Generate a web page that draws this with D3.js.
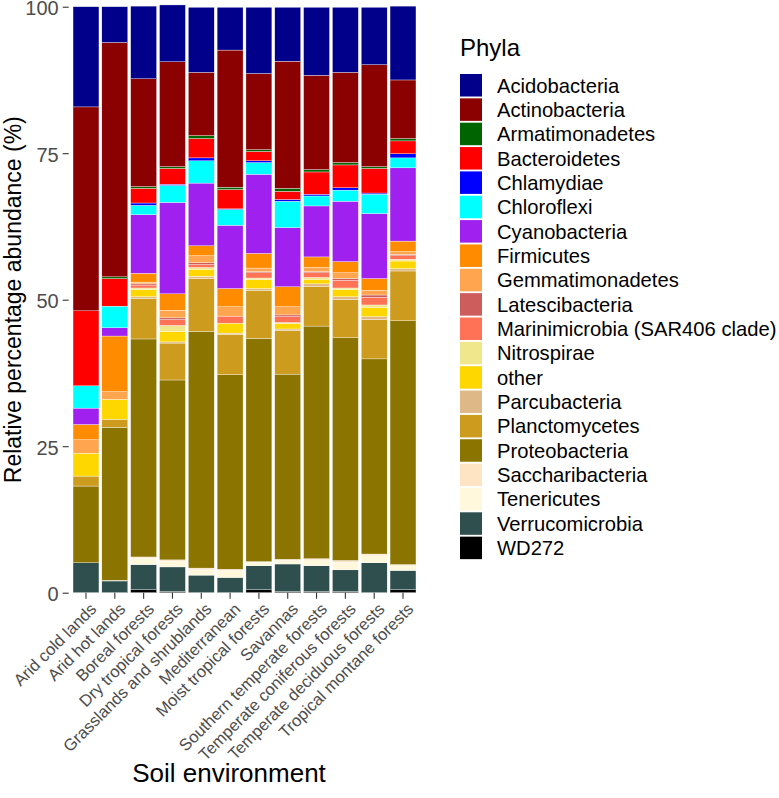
<!DOCTYPE html>
<html>
<head>
<meta charset="utf-8">
<script src="https://cdn.jsdelivr.net/npm/d3@7"></script>
<style>
  html, body { margin: 0; padding: 0; background: #fff; }
  svg { display: block; font-family: "Liberation Sans", Arial, Helvetica, sans-serif; }
</style>
</head>
<body>
<svg id="chart" width="779" height="798"></svg>
<script>
// ---- Data ----
const categories = ["Arid cold lands", "Arid hot lands", "Boreal forests", "Dry tropical forests",
  "Grasslands and shrublands", "Mediterranean", "Moist tropical forests", "Savannas",
  "Southern temperate forests", "Temperate coniferous forests", "Temperate deciduous forests",
  "Tropical montane forests"];

// legend order (top of stack first)
const phyla = ["Acidobacteria", "Actinobacteria", "Armatimonadetes", "Bacteroidetes", "Chlamydiae",
  "Chloroflexi", "Cyanobacteria", "Firmicutes", "Gemmatimonadetes", "Latescibacteria",
  "Marinimicrobia (SAR406 clade)", "Nitrospirae", "other", "Parcubacteria", "Planctomycetes",
  "Proteobacteria", "Saccharibacteria", "Tenericutes", "Verrucomicrobia", "WD272"];

const phylaColors = ["#00008B", "#8B0000", "#006400", "#FF0000", "#0000FF",
  "#00FFFF", "#A020F0", "#FF8C00", "#FFA54F", "#CD5C5C",
  "#FF7256", "#F0E68C", "#FFD700", "#DEB887", "#CD9B1D",
  "#8B7500", "#FFE4C4", "#FFF8DC", "#2F4F4F", "#000000"];

const acidobacteria    = [17.1, 6.1, 12.4, 9.7, 11.1, 7.3, 11.3, 9.2, 11.6, 11.1, 9.8, 12.6];
const actinobacteria   = [34.8, 40.0, 18.4, 17.9, 10.8, 23.4, 13.0, 21.7, 16.1, 15.4, 17.4, 10.0];
const armatimonadetes  = [0, 0.3, 0.3, 0.3, 0.5, 0.4, 0.3, 0.5, 0.4, 0.4, 0.3, 0.4];
const bacteroidetes    = [12.8, 4.7, 2.5, 2.7, 3.3, 3.3, 1.6, 1.4, 3.8, 3.9, 4.2, 2.2];
const chlamydiae       = [0, 0, 0.4, 0.2, 0.5, 0.1, 0.3, 0.3, 0.3, 0.4, 0.2, 0.7];
const chloroflexi      = [3.8, 3.7, 1.6, 2.9, 3.8, 2.7, 2.0, 4.5, 1.7, 1.9, 3.3, 1.7];
const cyanobacteria    = [2.8, 1.4, 10.0, 15.6, 10.7, 10.8, 13.5, 10.1, 8.7, 10.3, 11.1, 12.5];
const firmicutes       = [2.6, 9.5, 1.5, 2.8, 1.7, 3.1, 2.5, 3.4, 1.8, 1.9, 2.0, 1.8];
const gemmatimonadetes = [2.3, 1.3, 0.3, 1.3, 1.2, 1.6, 0.6, 1.4, 0.7, 1.0, 0.8, 0.5];
const latescibacteria  = [0, 0, 0.2, 0.3, 0.3, 0, 0.2, 0.3, 0.2, 0.3, 0.4, 0.2];
const marinimicrobia   = [0, 0, 0.5, 1.0, 0.5, 1.2, 0.9, 1.0, 0.8, 1.3, 1.3, 0.6];
const nitrospirae      = [0, 0, 0.3, 1.0, 0.3, 0, 0.3, 0.2, 0.3, 0.3, 0.4, 0.3];
const other            = [3.9, 3.4, 1.2, 1.8, 1.2, 1.7, 1.5, 0.9, 0.8, 1.2, 1.6, 1.3];
const parcubacteria    = [0, 0, 0.3, 0.2, 0.4, 0.2, 0.3, 0.3, 0.4, 0.5, 0.5, 0.4];
const planctomycetes   = [1.7, 1.4, 6.9, 6.3, 9.0, 6.9, 8.2, 7.4, 6.8, 6.5, 6.7, 8.5];
const proteobacteria   = [13.1, 26.1, 37.2, 30.7, 40.4, 33.2, 38.1, 31.6, 39.7, 38.0, 33.3, 41.6];
const saccharibacteria = [0, 0, 0.2, 0.2, 0.3, 0.2, 0.1, 0.2, 0.2, 0.3, 0.3, 0.2];
const tenericutes      = [0, 0.1, 1.1, 1.0, 0.9, 1.2, 0.6, 0.6, 1.0, 1.3, 1.2, 0.8];
const verrucomicrobia  = [5.1, 2.0, 4.3, 4.2, 3.0, 2.6, 4.1, 4.7, 4.4, 3.7, 5.1, 3.3];
const wd272            = [0, 0, 0.5, 0.2, 0, 0, 0.5, 0.2, 0.2, 0.2, 0, 0.5];

const yTicks = [0, 25, 50, 75, 100];

// ---- Build table ----
const seriesValues = [acidobacteria, actinobacteria, armatimonadetes, bacteroidetes, chlamydiae,
  chloroflexi, cyanobacteria, firmicutes, gemmatimonadetes, latescibacteria, marinimicrobia,
  nitrospirae, other, parcubacteria, planctomycetes, proteobacteria, saccharibacteria,
  tenericutes, verrucomicrobia, wd272];

const table = categories.map((c, i) => {
  const row = { category: c };
  phyla.forEach((p, j) => { row[p] = seriesValues[j][i]; });
  return row;
});

// ---- Layout ----
const svg = d3.select("#chart");
const panel = { left: 68.7, right: 420.3, top: 6.7, bottom: 592.7 };

const x = d3.scaleBand().domain(categories)
  .range([panel.left, panel.right]).paddingInner(0.1).paddingOuter(0.15);
const y = d3.scaleLinear().domain([0, 100]).range([panel.bottom, panel.top]);
const color = d3.scaleOrdinal().domain(phyla).range(phylaColors);

const stackKeys = phyla.slice().reverse(); // bottom of stack first
const stacked = d3.stack().keys(stackKeys)(table);

svg.append("g").selectAll("g").data(stacked).join("g")
  .attr("fill", d => color(d.key))
  .selectAll("rect").data(d => d).join("rect")
  .attr("x", d => x(d.data.category))
  .attr("width", x.bandwidth())
  .attr("y", d => y(d[1]))
  .attr("height", d => Math.max(0, y(d[0]) - y(d[1])))
  .attr("stroke", "#ffffff")
  .attr("stroke-width", 0.35);

// ---- Axes ----
const yAxis = svg.append("g")
  .attr("transform", `translate(${panel.left},0)`)
  .call(d3.axisLeft(y).tickValues(yTicks).tickSize(6).tickPadding(4));
yAxis.select(".domain").remove();
yAxis.selectAll(".tick line").attr("stroke", "#333333").attr("stroke-width", 1.1);
yAxis.selectAll(".tick text").attr("fill", "#4D4D4D").style("font-size", "20px")
  .attr("dy", "0.39em");

const xAxis = svg.append("g")
  .attr("transform", `translate(0,${panel.bottom})`)
  .call(d3.axisBottom(x).tickSize(6).tickPadding(0));
xAxis.select(".domain").remove();
xAxis.selectAll(".tick line").attr("stroke", "#333333").attr("stroke-width", 1.1);
xAxis.selectAll(".tick text")
  .attr("fill", "#4D4D4D").style("font-size", "16.6px")
  .attr("text-anchor", "end")
  .attr("transform", "translate(3,9) rotate(-45)")
  .attr("x", 0).attr("y", 0).attr("dy", "0.72em");

// axis titles
svg.append("text")
  .attr("transform", `translate(21,${(panel.top + panel.bottom) / 2}) rotate(-90)`)
  .attr("text-anchor", "middle")
  .style("font-size", "23px").attr("fill", "#000")
  .text("Relative percentage abundance (%)");

svg.append("text")
  .attr("x", 229).attr("y", 782)
  .attr("text-anchor", "middle")
  .style("font-size", "26px").attr("fill", "#000")
  .text("Soil environment");

// ---- Legend ----
const legend = svg.append("g").attr("transform", "translate(460,0)");
legend.append("text").attr("x", 0).attr("y", 55.5)
  .style("font-size", "24px").attr("fill", "#000").text("Phyla");

const keyPitch = 24.35, keyTop = 74;
const items = legend.selectAll("g.item").data(phyla).join("g")
  .attr("class", "item")
  .attr("transform", (d, i) => `translate(0,${keyTop + i * keyPitch})`);
items.append("rect").attr("width", 22).attr("height", 22.5)
  .attr("fill", d => color(d));
items.append("text").attr("x", 37).attr("y", 11.25).attr("dy", "0.36em")
  .style("font-size", "20.2px").attr("fill", "#000").text(d => d);
</script>
</body>
</html>
